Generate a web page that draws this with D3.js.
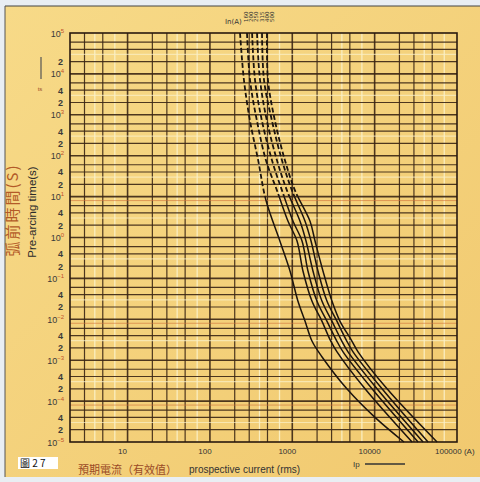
<!DOCTYPE html>
<html>
<head>
<meta charset="utf-8">
<script src="https://cdn.jsdelivr.net/npm/d3@7/dist/d3.min.js"></script>
<style>
  html, body { margin: 0; padding: 0; background: #e9eef3; }
  svg { display: block; }
</style>
</head>
<body>
<svg id="chart" width="480" height="482"></svg>
<script>
// Pre-arcing time / prospective current characteristics, one curve per rating (A)
const ratings = ["160", "200", "250", "315", "400", "500"];

// [prospective current (A), pre-arcing time (s)]
const curve160 = [[232,1e5],[259,7000],[307,700],[384,80],[480,8],[710,0.8],[940,0.15],[1170,0.028],[1430,0.009],[1740,0.0029],[2300,0.0012],[4600,0.0002],[10100,4e-5],[22700,1e-5]];
const curve200 = [[282,1e5],[307,7000],[373,700],[480,76],[653,14],[888,2.5],[1142,0.82],[1350,0.15],[1737,0.0275],[2297,0.0089],[2873,0.0032],[3494,0.0016],[7646,0.0002],[28456,1e-5]];
const curve250 = [[325,1e5],[353,7000],[429,700],[568,76],[751,14],[1021,2.5],[1313,0.82],[1553,0.15],[1997,0.0275],[2642,0.0089],[3398,0.0032],[4134,0.0016],[9297,0.0002],[33646,1e-5]];
const curve315 = [[373,1e5],[406,7000],[493,700],[653,76],[863,14],[1242,2.5],[1468,0.82],[1786,0.15],[2297,0.0275],[3038,0.0089],[3908,0.0032],[4752,0.0016],[10692,0.0002],[38686,1e-5]];
const curve400 = [[429,1e5],[454,7000],[568,700],[751,76],[993,14],[1429,2.5],[1689,0.82],[2054,0.15],[2642,0.0275],[3494,0.0089],[4493,0.0032],[5467,0.0016],[12302,0.0002],[44498,1e-5]];
const curve500 = [[493,1e5],[507,7000],[617,700],[816,76],[1080,14],[1642,2.5],[1889,0.82],[2362,0.15],[3038,0.0275],[3800,0.0089],[5170,0.0032],[6288,0.0016],[14146,0.0002],[57240,1e-5]];
const curves = [curve160, curve200, curve250, curve315, curve400, curve500];

// Axis ticks
const xTickValues = [10, 100, 1000, 10000, 100000];
const xTickLabels = ["10", "100", "1000", "10000", "100000 (A)"];
const yDecadeExponents = [5, 4, 3, 2, 1, 0, -1, -2, -3, -4, -5];
const yMinorLabels = [2, 4];
const dashedAbove = 10; // curves are dashed above this time (s)

const svg = d3.select("#chart");
const W = 480, H = 482;

const x = d3.scaleLog().domain([2, 1e5]).range([70, 457]);
const y = d3.scaleLog().domain([1e-5, 1e5]).range([442, 33]);

const defs = svg.append("defs");
const paper = defs.append("linearGradient").attr("id", "paper")
  .attr("x1", 0).attr("y1", 0).attr("x2", 1).attr("y2", 1);
paper.append("stop").attr("offset", 0).attr("stop-color", "#f7da88");
paper.append("stop").attr("offset", 1).attr("stop-color", "#f1c96f");

// paper
svg.append("rect").attr("x", 0).attr("y", 0).attr("width", W).attr("height", H).attr("fill", "#e9eef3");
svg.append("rect").attr("x", 5).attr("y", 6).attr("width", W - 5).attr("height", 471).attr("fill", "url(#paper)");
svg.append("line").attr("x1", 5).attr("x2", W).attr("y1", 6).attr("y2", 6).attr("stroke", "#444").attr("stroke-width", 1.2);
svg.append("line").attr("x1", 5).attr("x2", 5).attr("y1", 6).attr("y2", 477).attr("stroke", "#555").attr("stroke-width", 1);

const grid = svg.append("g");

// vertical grid
const vLines = [];
for (let k = 0; k <= 4; k++) {
  for (let m = 1; m <= 9; m++) {
    const v = m * Math.pow(10, k);
    if (v <= 2 || v >= 1e5) continue;
    if ([1, 2, 3, 5].includes(m)) vLines.push({ v, kind: m === 1 ? "major" : "dark" });
    else if (m === 4 || m === 7) vLines.push({ v, kind: "light" });
  }
}
grid.selectAll("line.v").data(vLines).join("line")
  .attr("x1", d => x(d.v)).attr("x2", d => x(d.v))
  .attr("y1", y(1e5)).attr("y2", y(1e-5))
  .attr("stroke", d => d.kind === "light" ? "#fbf1c8" : "#3b2614")
  .attr("stroke-width", d => d.kind === "major" ? 1.6 : (d.kind === "light" ? 1.3 : 1.2))
  .attr("opacity", 0.9);

// horizontal grid
const hLines = [];
for (let k = -5; k <= 4; k++) {
  for (const m of [1, 2, 3, 4, 6]) {
    const v = m * Math.pow(10, k);
    if (v <= 1e-5 || v >= 1e5) continue;
    let kind = "dark";
    if (m === 1) kind = "major";
    if (m === 3) kind = "light";
    hLines.push({ v, kind });
  }
}
grid.selectAll("line.h").data(hLines).join("line")
  .attr("x1", x(2)).attr("x2", x(1e5))
  .attr("y1", d => y(d.v)).attr("y2", d => y(d.v))
  .attr("stroke", d => d.kind === "light" ? "#fbf1c8" : "#3b2614")
  .attr("stroke-width", d => d.kind === "major" ? 1.6 : 1.2)
  .attr("opacity", d => d.kind === "light" ? 0.7 : 0.9);

// a few faded orange rules
const orangeRules = [8, 0.008, 0.00008];
grid.selectAll("line.o").data(orangeRules).join("line")
  .attr("x1", x(2)).attr("x2", x(1e5))
  .attr("y1", d => y(d)).attr("y2", d => y(d))
  .attr("stroke", "#d0703a").attr("stroke-width", 1).attr("opacity", 0.6);

// frame
svg.append("rect").attr("x", x(2)).attr("y", y(1e5))
  .attr("width", x(1e5) - x(2)).attr("height", y(1e-5) - y(1e5))
  .attr("fill", "none").attr("stroke", "#2a1a0e").attr("stroke-width", 1.6);

// curves: dashed above dashedAbove seconds, solid below
defs.append("clipPath").attr("id", "clipUpper").append("rect")
  .attr("x", 0).attr("y", 0).attr("width", W).attr("height", y(dashedAbove));
defs.append("clipPath").attr("id", "clipLower").append("rect")
  .attr("x", 0).attr("y", y(dashedAbove)).attr("width", W).attr("height", H - y(dashedAbove));

const line = d3.line()
  .x(d => x(d[0])).y(d => y(d[1]))
  .curve(d3.curveCatmullRom.alpha(0.5));

const cg = svg.append("g");
cg.selectAll("path.upper").data(curves).join("path")
  .attr("d", line).attr("fill", "none")
  .attr("stroke", "#1c140e").attr("stroke-width", 1.8)
  .attr("stroke-dasharray", "5,2.5")
  .attr("clip-path", "url(#clipUpper)");
cg.selectAll("path.lower").data(curves).join("path")
  .attr("d", line).attr("fill", "none")
  .attr("stroke", "#1c140e").attr("stroke-width", 1.5)
  .attr("clip-path", "url(#clipLower)");

// rating labels above curves
const labelX = d3.scaleLinear().domain([0, ratings.length - 1]).range([246, 272]);
svg.append("g").selectAll("text").data(ratings).join("text")
  .attr("transform", (d, i) => `translate(${labelX(i) + 2},22) rotate(-90)`)
  .attr("font-family", "DejaVu Sans, sans-serif").attr("font-size", 5.5)
  .attr("fill", "#333").text(d => d);
svg.append("text").attr("x", 225).attr("y", 24)
  .attr("font-family", "DejaVu Sans, sans-serif").attr("font-size", 7)
  .attr("fill", "#333").text("In(A)");

// y axis labels
const fontF = "Liberation Sans, Arial, sans-serif";
const yl = svg.append("g").attr("font-family", fontF).attr("fill", "#3a3a3a").attr("text-anchor", "end");
yDecadeExponents.forEach(e => {
  const t = yl.append("text").attr("x", 64).attr("y", y(Math.pow(10, e)) + 3.5).attr("font-size", 9);
  t.append("tspan").text("10");
  t.append("tspan").attr("dy", -4).attr("font-size", 6).attr("fill", "#c0502a").text(e < 0 ? "\u2212" + (-e) : String(e));
  if (e < 5) {
    yMinorLabels.forEach(m => {
      if (e === 4 && m === 4) return; // top decade only carries a 2
      yl.append("text").attr("x", 63).attr("y", y(m * Math.pow(10, e)) + 3.5)
        .attr("font-size", 9).attr("font-weight", "bold").text(m);
    });
  }
});

// ts marker
svg.append("line").attr("x1", 41).attr("x2", 41).attr("y1", 57).attr("y2", 79)
  .attr("stroke", "#555").attr("stroke-width", 1.2);
svg.append("text").attr("x", 40).attr("y", 91).attr("text-anchor", "middle")
  .attr("font-family", fontF).attr("font-size", 6).attr("fill", "#a0502a").text("ts");

// x axis labels
const xl = svg.append("g").attr("font-family", fontF).attr("font-size", 8).attr("fill", "#333");
xTickValues.forEach((v, i) => {
  if (i === xTickValues.length - 1) {
    xl.append("text").attr("x", x(v) - 22).attr("y", 454).text(xTickLabels[i]);
  } else {
    xl.append("text").attr("x", x(v) - 5).attr("y", 454).attr("text-anchor", "middle").text(xTickLabels[i]);
  }
});

// axis titles
svg.append("text")
  .attr("transform", "translate(18,210) rotate(-90)")
  .attr("text-anchor", "middle")
  .attr("font-family", "Noto Sans CJK TC, sans-serif").attr("font-size", 15)
  .attr("letter-spacing", 2)
  .attr("fill", "#b35a28").text("弧前時間(S)");
svg.append("text")
  .attr("transform", "translate(36,212) rotate(-90)")
  .attr("text-anchor", "middle")
  .attr("font-family", fontF).attr("font-size", 11.5)
  .attr("fill", "#2b2b2b").text("Pre-arcing time(s)");

svg.append("text").attr("x", 78).attr("y", 474)
  .attr("font-family", "Noto Sans CJK TC, sans-serif").attr("font-size", 11)
  .attr("fill", "#9a4a26").text("預期電流（有效值）");
svg.append("text").attr("x", 189).attr("y", 473)
  .attr("font-family", fontF).attr("font-size", 10)
  .attr("fill", "#333").text("prospective current (rms)");

svg.append("text").attr("x", 353).attr("y", 467)
  .attr("font-family", fontF).attr("font-size", 8).attr("fill", "#333").text("Ip");
svg.append("line").attr("x1", 365).attr("x2", 405).attr("y1", 464).attr("y2", 464)
  .attr("stroke", "#333").attr("stroke-width", 1.5);

// figure tag
svg.append("rect").attr("x", 18).attr("y", 457).attr("width", 40).attr("height", 12).attr("fill", "#ffffff");
svg.append("text").attr("x", 20).attr("y", 467)
  .attr("font-family", "Noto Sans CJK TC, sans-serif").attr("font-size", 10)
  .attr("fill", "#111").text("圖 2 7");
</script>
</body>
</html>
